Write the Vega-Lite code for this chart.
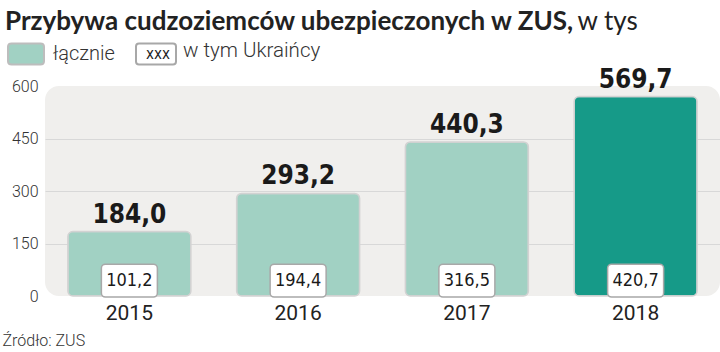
{
  "$schema": "https://vega.github.io/schema/vega-lite/v6.json",
  "width": 675,
  "height": 210,
  "autosize": {"type": "none"},
  "padding": {"left": 45, "top": 86, "right": 0, "bottom": 56},
  "background": "#ffffff",
  "title": {
    "text": "Przybywa cudzoziemców ubezpieczonych w ZUS,",
    "anchor": "start",
    "frame": "group",
    "dx": -40,
    "font": "Lato",
    "fontWeight": "bold",
    "fontSize": 26,
    "color": "#222222",
    "offset": -27
  },
  "config": {
    "view": {"fill": "#f0efed", "stroke": null, "cornerRadius": 14},
    "locale": {"number": {"decimal": ",", "thousands": " ", "grouping": [3], "currency": ["", " zł"]}}
  },
  "data": {
    "values": [
      {"year": "2015", "total": 184.0, "ukr": 101.2},
      {"year": "2016", "total": 293.2, "ukr": 194.4},
      {"year": "2017", "total": 440.3, "ukr": 316.5},
      {"year": "2018", "total": 569.7, "ukr": 420.7}
    ]
  },
  "encoding": {
    "x": {
      "field": "year",
      "type": "nominal",
      "scale": {"paddingInner": 0, "paddingOuter": 0},
      "axis": {
        "labelAngle": 0,
        "labelFont": "Roboto",
        "labelFontSize": 21,
        "labelColor": "#222222",
        "labelPadding": 6,
        "domain": false,
        "ticks": false,
        "title": "Źródło: ZUS",
        "titleFont": "Roboto",
        "titleFontSize": 16,
        "titleFontWeight": 300,
        "titleColor": "#333333",
        "titleAlign": "left",
        "titleBaseline": "alphabetic",
        "titleAnchor": "start",
        "titleX": -43,
        "titleY": 49
      }
    }
  },
  "layer": [
    {
      "mark": {"type": "bar", "width": 123, "cornerRadius": 5, "stroke": "#d2d2d2", "strokeWidth": 1.5},
      "encoding": {
        "y": {
          "field": "total",
          "type": "quantitative",
          "scale": {"domain": [0, 600], "nice": false},
          "axis": {
            "values": [0, 150, 300, 450, 600],
            "labelFont": "Roboto",
            "labelFontSize": 16,
            "labelFontWeight": 300,
            "labelColor": "#333333",
            "labelPadding": 7,
            "ticks": false,
            "domain": false,
            "grid": true,
            "gridColor": "#d8d8d8",
            "gridOpacity": {"condition": {"test": "datum.value === 0 || datum.value === 600", "value": 0}, "value": 1},
            "title": "w tys",
            "titleAngle": 0,
            "titleFont": "Lato",
            "titleFontSize": 26,
            "titleFontWeight": "normal",
            "titleColor": "#222222",
            "titleAlign": "left",
            "titleBaseline": "alphabetic",
            "titleX": 532,
            "titleY": -57
          }
        },
        "fill": {
          "condition": {"test": "datum.year === '2018'", "value": "#169a88"},
          "datum": "łącznie",
          "scale": {"range": ["#a1d1c3"]},
          "legend": {
            "orient": "none",
            "legendX": -38,
            "legendY": -51,
            "title": null,
            "symbolType": "M-0.8,-0.58 L0.8,-0.58 Q1,-0.58 1,-0.4 L1,0.4 Q1,0.58 0.8,0.58 L-0.8,0.58 Q-1,0.58 -1,0.4 L-1,-0.4 Q-1,-0.58 -0.8,-0.58 Z",
            "symbolSize": 1296,
            "symbolStrokeColor": "#bdbdbd",
            "symbolStrokeWidth": 2,
            "labelOffset": 8,
            "labelFont": "Roboto",
            "labelFontSize": 20,
            "labelFontWeight": 300,
            "labelColor": "#333333"
          }
        }
      }
    },
    {
      "mark": {"type": "text", "baseline": "bottom", "dy": -4, "font": "DejaVu Sans Condensed", "fontWeight": "bold", "fontSize": 26, "color": "#1a1a1a"},
      "encoding": {
        "y": {"field": "total", "type": "quantitative"},
        "text": {"field": "total", "type": "quantitative", "format": ".1f"}
      }
    },
    {
      "mark": {"type": "bar", "width": 56, "cornerRadius": 4, "fill": "#ffffff", "strokeWidth": 1.5},
      "encoding": {
        "y": {"datum": -3},
        "y2": {"datum": 91},
        "stroke": {
          "datum": "xxx",
          "scale": {"range": ["#a8a8a8"]},
          "legend": {
            "orient": "none",
            "legendX": 90,
            "legendY": -53,
            "title": "w tym Ukraińcy",
            "titleOrient": "right",
            "titlePadding": 3,
            "titleFont": "Roboto",
            "titleFontSize": 20.5,
            "titleFontWeight": 300,
            "titleColor": "#333333",
            "titleBaseline": "middle",
            "symbolType": "M-0.85,-0.525 L0.85,-0.525 Q1,-0.525 1,-0.375 L1,0.375 Q1,0.525 0.85,0.525 L-0.85,0.525 Q-1,0.525 -1,0.375 L-1,-0.375 Q-1,-0.525 -0.85,-0.525 Z",
            "symbolSize": 1600,
            "symbolFillColor": "#ffffff",
            "symbolStrokeColor": "#a8a8a8",
            "symbolStrokeWidth": 2,
            "labelOffset": -31,
            "labelFont": "DejaVu Sans Condensed",
            "labelFontSize": 15,
            "labelColor": "#222222"
          }
        }
      }
    },
    {
      "mark": {"type": "text", "baseline": "middle", "dy": -15, "font": "DejaVu Sans Condensed", "fontSize": 18, "color": "#1a1a1a"},
      "encoding": {
        "y": {"datum": 0},
        "text": {"field": "ukr", "type": "quantitative", "format": ".1f"}
      }
    }
  ]
}
